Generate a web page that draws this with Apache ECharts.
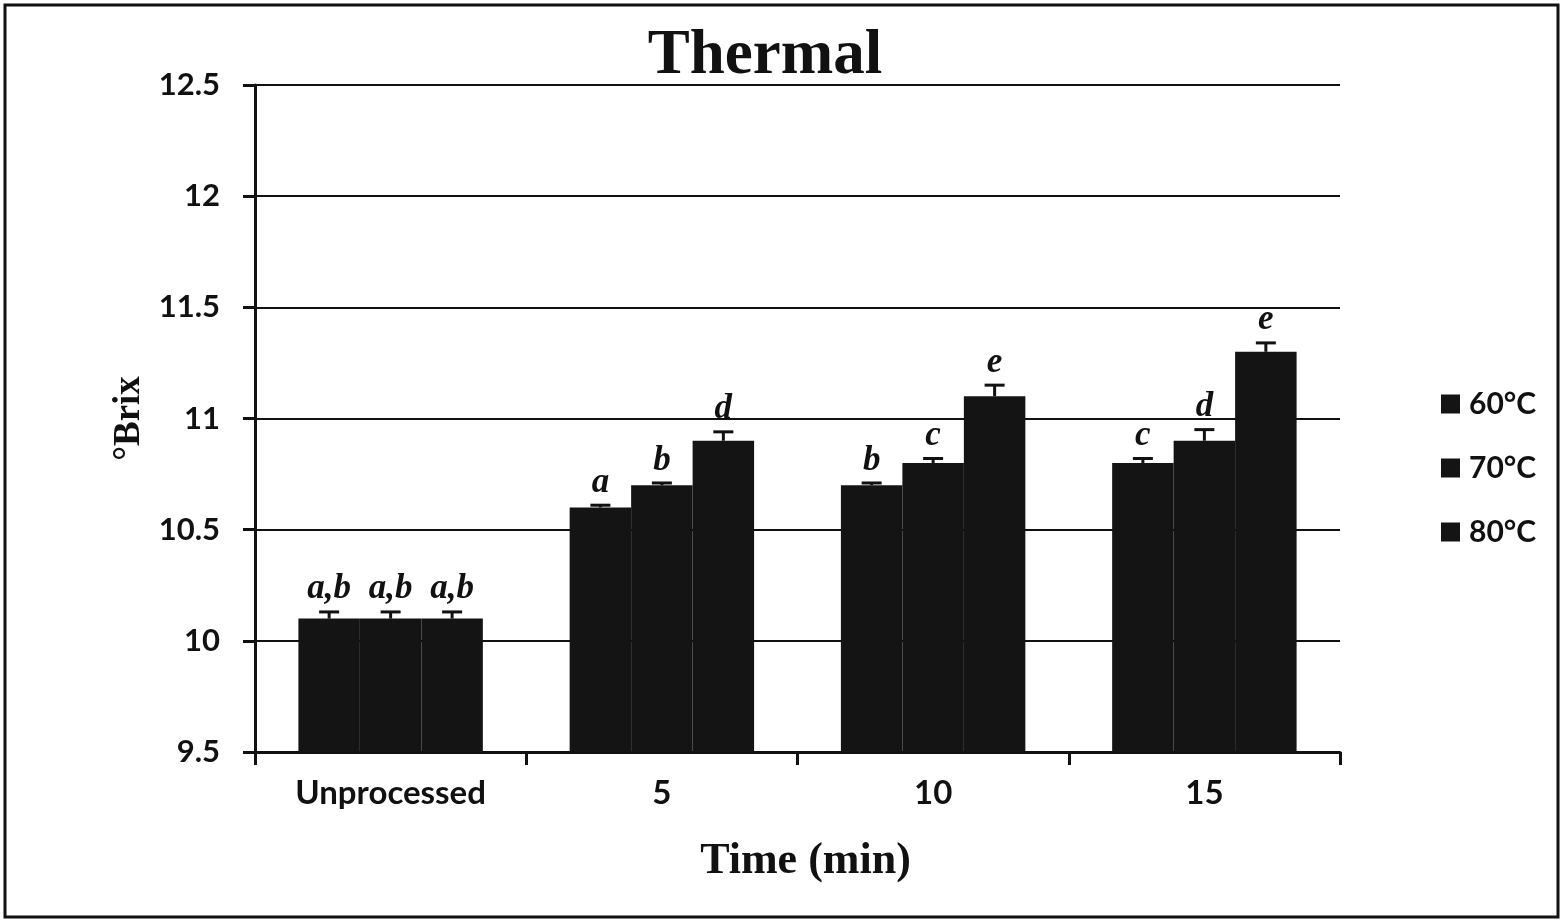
<!DOCTYPE html>
<html>
<head>
<meta charset="utf-8">
<script src="https://cdn.jsdelivr.net/npm/echarts@6/dist/echarts.min.js"></script>
<style>
html,body{margin:0;padding:0;background:#fff;}
#chart{width:1563px;height:922px;}
</style>
</head>
<body>
<div id="chart"></div>
<script>
const categories = ['Unprocessed', '5', '10', '15'];
const seriesNames = ['60°C', '70°C', '80°C'];
const values60 = [10.1, 10.6, 10.7, 10.8];
const values70 = [10.1, 10.7, 10.8, 10.9];
const values80 = [10.1, 10.9, 11.1, 11.3];
const err60 = [0.03, 0.01, 0.01, 0.02];
const err70 = [0.03, 0.01, 0.02, 0.05];
const err80 = [0.03, 0.04, 0.05, 0.04];
const letters60 = ['a,b', 'a', 'b', 'c'];
const letters70 = ['a,b', 'b', 'c', 'd'];
const letters80 = ['a,b', 'd', 'e', 'e'];

const allValues = [values60, values70, values80];
const allErr = [err60, err70, err80];
const allLetters = [letters60, letters70, letters80];

const CAT_GAP = 0.32;
const chart = echarts.init(document.getElementById('chart'));

function makeErrSeries(si) {
  return {
    type: 'custom',
    name: seriesNames[si] + ' err',
    z: 10,
    silent: true,
    data: categories.map((c, i) => [i, allValues[si][i], allErr[si][i]]),
    renderItem: function (params, api) {
      const ci = api.value(0);
      const v = api.value(1);
      const e = api.value(2);
      const catW = api.size([1, 0])[0];
      const barW = catW * (1 - CAT_GAP) / 3;
      const base = api.coord([ci, v]);
      const x = base[0] + (si - 1) * barW;
      const yTop = api.coord([ci, v + e])[1];
      const yBar = base[1];
      const letter = allLetters[si][params.dataIndex];
      return {
        type: 'group',
        children: [
          { type: 'line', shape: { x1: x, y1: yBar, x2: x, y2: yTop }, style: { stroke: '#111', lineWidth: 3 } },
          { type: 'line', shape: { x1: x - 10, y1: yTop, x2: x + 10, y2: yTop }, style: { stroke: '#111', lineWidth: 3 } },
          { type: 'text', x: x, y: yTop - 5, style: { text: letter, fill: '#111', font: 'italic bold 35px "Liberation Serif", "DejaVu Serif", serif', align: 'center', verticalAlign: 'bottom' } }
        ]
      };
    }
  };
}

const barSeries = seriesNames.map((n, si) => ({
  type: 'bar',
  name: n,
  data: allValues[si],
  barGap: '0%',
  barCategoryGap: (CAT_GAP * 100) + '%',
  itemStyle: { color: '#141414' },
  z: 3
}));

const option = {
  backgroundColor: '#fff',
  animation: false,
  title: {
    text: 'Thermal',
    left: 760,
    top: 20,
    textAlign: 'center',
    textStyle: { fontFamily: '"Liberation Serif", serif', fontWeight: 'bold', fontSize: 63, color: '#111' }
  },
  legend: {
    data: seriesNames,
    orient: 'vertical',
    left: 1436,
    top: 384,
    itemGap: 34,
    itemWidth: 19,
    itemHeight: 19,
    icon: 'rect',
    textStyle: { fontFamily: 'Lato, "Open Sans", sans-serif', fontWeight: 'bold', fontSize: 30, color: '#111', padding: [0, 0, 0, 4] }
  },
  grid: { left: 255, right: 223, top: 85, bottom: 170, containLabel: false },
  xAxis: {
    type: 'category',
    data: categories,
    name: 'Time (min)',
    nameLocation: 'middle',
    nameGap: 88,
    nameTextStyle: { fontFamily: '"Liberation Serif", serif', fontWeight: 'bold', fontSize: 44, color: '#111', padding: [0, 0, 0, 16] },
    axisLine: { lineStyle: { color: '#111', width: 3 } },
    axisTick: { show: true, length: 13, lineStyle: { color: '#111', width: 3 } },
    axisLabel: { fontFamily: 'Lato, "Open Sans", sans-serif', fontWeight: 'bold', fontSize: 33, color: '#111', margin: 25 },
    splitLine: { show: false }
  },
  yAxis: {
    type: 'value',
    min: 9.5,
    max: 12.5,
    interval: 0.5,
    name: '°Brix',
    nameLocation: 'middle',
    nameGap: 106,
    nameTextStyle: { fontFamily: '"Liberation Serif", serif', fontWeight: 'bold', fontSize: 37, color: '#111' },
    axisLine: { show: true, lineStyle: { color: '#111', width: 3 } },
    axisTick: { show: true, length: 12, lineStyle: { color: '#111', width: 3 } },
    axisLabel: { fontFamily: 'Lato, "Open Sans", sans-serif', fontWeight: 'bold', fontSize: 31, color: '#111', margin: 35, formatter: v => String(v) },
    splitLine: { show: true, lineStyle: { color: '#111', width: 2 } }
  },
  graphic: [
    { type: 'rect', shape: { x: 5, y: 5, width: 1553, height: 912 }, style: { fill: 'none', stroke: '#111', lineWidth: 3 }, silent: true }
  ],
  series: barSeries.concat([0, 1, 2].map(makeErrSeries))
};
chart.setOption(option);
</script>
</body>
</html>
